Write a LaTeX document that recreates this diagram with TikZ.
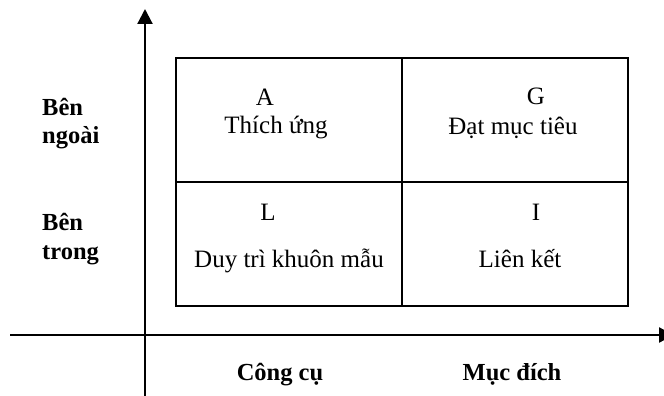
\documentclass[tikz,border=0pt]{standalone}
\usepackage{fontspec}
\setmainfont{Liberation Serif}
\usetikzlibrary{arrows.meta}
\begin{document}
\begin{tikzpicture}[x=1pt,y=-1pt,
  axis/.style={line width=2.2pt,-{Triangle[length=15pt,width=15pt]}},
  cell/.style={draw,line width=2pt,minimum width=226pt,minimum height=124pt,anchor=north west},
  lbl/.style={font=\fontsize{25}{29}\selectfont,inner sep=0pt,anchor=base},
  bl/.style={font=\fontsize{24.5}{29}\selectfont\bfseries,inner sep=0pt,anchor=base},
  side/.style={bl,anchor=base west}]
\useasboundingbox (0,0) rectangle (664,396);
\coordinate (ys) at (145,396);
\coordinate (ye) at (145,9);
\coordinate (xs) at (10,335);
\coordinate (xe) at (674,335);
\draw[axis] (ys) -- (ye);
\draw[axis] (xs) -- (xe);
\node[cell] (cA) at (175,57) {};
\node[cell] (cG) at (401,57) {};
\node[cell] (cL) at (175,181) {};
\node[cell] (cI) at (401,181) {};
\node[lbl] (tA) at (265,105) {A};
\node[lbl] (nA) at (276,133) {Thích ứng};
\node[lbl] (tG) at (536,104) {G};
\node[lbl] (nG) at (513,134) {Đạt mục tiêu};
\node[lbl] (tL) at (268,220) {L};
\node[lbl] (nL) at (289,267) {Duy trì khuôn mẫu};
\node[lbl] (tI) at (536,220) {I};
\node[lbl] (nI) at (520,267) {Liên kết};
\node[side] (o1) at (42,115) {Bên};
\node[side] (o2) at (42,143) {ngoài};
\node[side] (i1) at (42,230) {Bên};
\node[side] (i2) at (42,259) {trong};
\node[bl] (x1) at (280,380) {Công cụ};
\node[bl] (x2) at (512,380) {Mục đích};
\end{tikzpicture}
\end{document}
